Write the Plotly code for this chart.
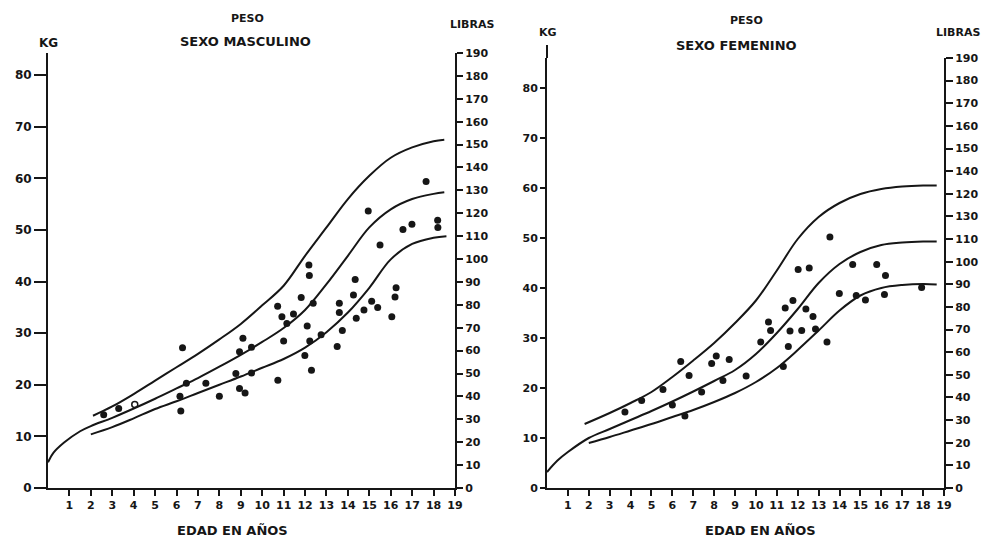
import plotly.graph_objects as go

# The page body adds an 8px margin, so the figure is drawn 8px in from the
# top-left corner; positions below are given in screenshot pixels.
OFF = 8
W, H = 989 - OFF, 542 - OFF

# ---------------- DATA ----------------
age_ticks = list(range(1, 20))
kg_ticks = [0, 10, 20, 30, 40, 50, 60, 70, 80]
lb_ticks = list(range(0, 200, 10))
lb_text_m = [str(v) for v in lb_ticks]
lb_text_f = ["0", "10", "20", "30", "40", "50", "60", "70", "80", "90", "100",
             "110", "130", "120", "140", "150", "160", "170", "180", "190"]

# Male curves (age in years, weight in kg)
m_up_age = [2.1, 3, 4, 5, 6, 7, 8, 9, 10, 11, 12, 13, 14, 15, 16, 17, 18, 18.5]
m_up_kg = [14.0, 15.8, 18.2, 20.8, 23.4, 26.0, 28.8, 31.8, 35.4, 39.2, 45.0, 50.5, 56.0, 60.5, 64.0, 66.0, 67.2, 67.5]
m_mid_age = [0, 0.25, 0.75, 1.5, 2, 3, 4, 5, 6, 7, 8, 9, 10, 11, 12, 13, 14, 15, 16, 17, 18, 18.5]
m_mid_kg = [5.0, 6.8, 8.8, 11.0, 12.0, 13.6, 15.4, 17.3, 19.3, 21.3, 23.5, 25.8, 28.3, 31.0, 34.5, 39.5, 45.0, 50.5, 54.0, 56.0, 57.0, 57.3]
m_low_age = [2, 3, 4, 5, 6, 7, 8, 9, 10, 11, 12, 13, 14, 15, 16, 17, 18, 18.6]
m_low_kg = [10.4, 11.8, 13.5, 15.3, 16.8, 18.4, 20.0, 21.6, 23.3, 25.0, 27.2, 30.2, 34.0, 38.8, 44.3, 47.3, 48.5, 48.8]

# Male observations
m_age = [6.28, 6.46, 6.16, 6.2, 7.37, 8.0, 8.77, 8.94, 9.2, 9.5, 8.94, 9.1, 9.5,
         10.73, 10.72, 10.92, 11.15, 11.46, 11.0, 11.82, 12.18, 12.2, 12.1, 12.22,
         11.99, 12.3, 12.38, 12.75, 13.5, 13.6, 13.6, 13.74, 14.34, 14.26, 14.39,
         14.75, 15.11, 15.39, 16.05, 16.2, 16.25, 14.95, 15.5, 16.57, 16.99, 17.65,
         18.19, 18.2, 2.6, 3.3]
m_kg = [27.2, 20.3, 17.8, 14.9, 20.3, 17.8, 22.2, 19.3, 18.4, 22.3, 26.4, 29.0, 27.3,
        20.9, 35.2, 33.2, 31.9, 33.7, 28.5, 36.9, 43.2, 41.2, 31.4, 28.5,
        25.7, 22.8, 35.8, 29.7, 27.4, 35.8, 34.0, 30.5, 40.4, 37.4, 32.9,
        34.5, 36.2, 35.0, 33.2, 37.0, 38.8, 53.7, 47.1, 50.1, 51.1, 59.4,
        51.9, 50.5, 14.2, 15.4]
m_open_age = [4.05]
m_open_kg = [16.2]

# Female curves
f_up_age = [1.8, 3, 4, 5, 6, 7, 8, 9, 10, 11, 12, 13, 14, 15, 16, 17, 18, 18.65]
f_up_kg = [12.8, 15.0, 17.0, 19.2, 22.2, 25.5, 29.0, 33.0, 37.5, 43.5, 49.8, 54.2, 57.0, 58.8, 59.8, 60.3, 60.5, 60.5]
f_mid_age = [0, 0.5, 1, 2, 3, 4, 5, 6, 7, 8, 9, 10, 11, 12, 13, 14, 15, 16, 17, 18, 18.65]
f_mid_kg = [3.2, 5.5, 7.2, 10.0, 11.8, 13.6, 15.4, 17.3, 19.3, 21.4, 23.6, 26.8, 31.0, 35.8, 41.0, 44.8, 47.2, 48.6, 49.1, 49.3, 49.3]
f_low_age = [2, 3, 4, 5, 6, 7, 8, 9, 10, 11, 12, 13, 14, 15, 16, 17, 18, 18.65]
f_low_kg = [9.0, 10.2, 11.5, 12.8, 14.2, 15.6, 17.2, 19.0, 21.2, 24.0, 27.6, 31.5, 35.5, 38.5, 40.0, 40.6, 40.8, 40.7]

# Female observations
f_age = [3.73, 4.53, 5.55, 6.0, 6.6, 6.4, 6.8, 7.4, 7.88, 8.1, 8.42, 8.72, 9.53,
         10.23, 10.6, 10.7, 11.31, 11.55, 11.4, 11.77, 11.63, 12.19, 12.39, 12.73,
         12.85, 13.4, 13.99, 14.8, 15.24, 16.2, 16.15, 17.93, 13.54, 12.02, 12.55,
         14.63, 15.78]
f_kg = [15.2, 17.5, 19.7, 16.6, 14.4, 25.3, 22.5, 19.2, 24.9, 26.4, 21.5, 25.7, 22.4,
        29.2, 33.2, 31.5, 24.3, 28.3, 36.0, 37.5, 31.4, 31.5, 35.8, 34.3,
        31.8, 29.2, 38.9, 38.5, 37.6, 42.5, 38.7, 40.1, 50.2, 43.7, 44.0,
        44.7, 44.7]

# ---------------- FIGURE ----------------
INK = "#161616"
FONT = "DejaVu Sans"


def px(x):
    return (x - OFF) / W


def py(y):
    return 1 - (y - OFF) / H


fig = go.Figure()

line_style = dict(color=INK, width=2, shape="spline", smoothing=1.0)
mk = dict(color=INK, size=7)

for a, k in [(m_up_age, m_up_kg), (m_mid_age, m_mid_kg), (m_low_age, m_low_kg)]:
    fig.add_trace(go.Scatter(x=a, y=k, mode="lines", line=line_style, xaxis="x", yaxis="y",
                             showlegend=False, hoverinfo="skip"))
fig.add_trace(go.Scatter(x=m_age, y=m_kg, mode="markers", marker=mk, xaxis="x", yaxis="y", showlegend=False))
fig.add_trace(go.Scatter(x=m_open_age, y=m_open_kg, mode="markers",
                         marker=dict(symbol="circle-open", color=INK, size=6, line=dict(width=1.5)),
                         xaxis="x", yaxis="y", showlegend=False))

for a, k in [(f_up_age, f_up_kg), (f_mid_age, f_mid_kg), (f_low_age, f_low_kg)]:
    fig.add_trace(go.Scatter(x=a, y=k, mode="lines", line=line_style, xaxis="x2", yaxis="y3",
                             showlegend=False, hoverinfo="skip"))
fig.add_trace(go.Scatter(x=f_age, y=f_kg, mode="markers", marker=mk, xaxis="x2", yaxis="y3", showlegend=False))

# dummy traces so the secondary (pound) axes render
fig.add_trace(go.Scatter(x=[None], y=[None], xaxis="x", yaxis="y2", showlegend=False))
fig.add_trace(go.Scatter(x=[None], y=[None], xaxis="x2", yaxis="y4", showlegend=False))


def tf(size):
    return dict(family=FONT, size=size, color=INK, weight="bold")


common = dict(showline=True, linecolor=INK, linewidth=2, ticks="outside", tickcolor=INK,
              tickwidth=2, showgrid=False, zeroline=False, fixedrange=True, automargin=False)

ybot = py(488)
fig.update_layout(
    width=W, height=H,
    margin=dict(l=0, r=0, t=0, b=0, pad=0, autoexpand=False),
    paper_bgcolor="white", plot_bgcolor="white",
    showlegend=False,
    xaxis=dict(domain=[px(48), px(455)], range=[0, 19], anchor="y", tickvals=age_ticks,
               ticklen=6, tickfont=tf(11), **common),
    yaxis=dict(domain=[ybot, py(53)], range=[0, 84.3], anchor="x", tickvals=kg_ticks,
               ticklen=12, tickfont=tf(12), **common),
    yaxis2=dict(domain=[ybot, py(53)], range=[0, 190], anchor="x", overlaying="y", side="right",
                tickvals=lb_ticks, ticktext=lb_text_m, ticklen=6, tickfont=tf(11), **common),
    xaxis2=dict(domain=[px(547), px(944)], range=[0, 19], anchor="y3", tickvals=age_ticks,
                ticklen=6, tickfont=tf(11), **common),
    yaxis3=dict(domain=[ybot, py(58)], range=[0, 86], anchor="x2", tickvals=kg_ticks,
                ticklen=5, tickfont=tf(11), **common),
    yaxis4=dict(domain=[ybot, py(58)], range=[0, 190], anchor="x2", overlaying="y3", side="right",
                tickvals=lb_ticks, ticktext=lb_text_f, ticklen=7, tickfont=tf(11), **common),
)

# extension of the female kg axis line above the plotting area
fig.add_shape(type="line", xref="paper", yref="paper", x0=px(547), x1=px(547), y0=py(58), y1=py(45),
              line=dict(color=INK, width=2))

labels = [
    ("PESO", 247, 18, 11),
    ("SEXO MASCULINO", 245, 41, 13),
    ("KG", 48, 43, 12),
    ("LIBRAS", 472, 25, 11),
    ("EDAD EN AÑOS", 232, 530, 13),
    ("PESO", 746, 20, 11),
    ("SEXO FEMENINO", 736, 45, 13),
    ("KG", 548, 32, 11),
    ("LIBRAS", 958, 32, 11),
    ("EDAD EN AÑOS", 760, 530, 13),
]
for text, x, y, s in labels:
    fig.add_annotation(text=text, x=px(x), y=py(y), xref="paper", yref="paper", showarrow=False,
                       xanchor="center", yanchor="middle", font=tf(s))

fig.write_html("out.html")
